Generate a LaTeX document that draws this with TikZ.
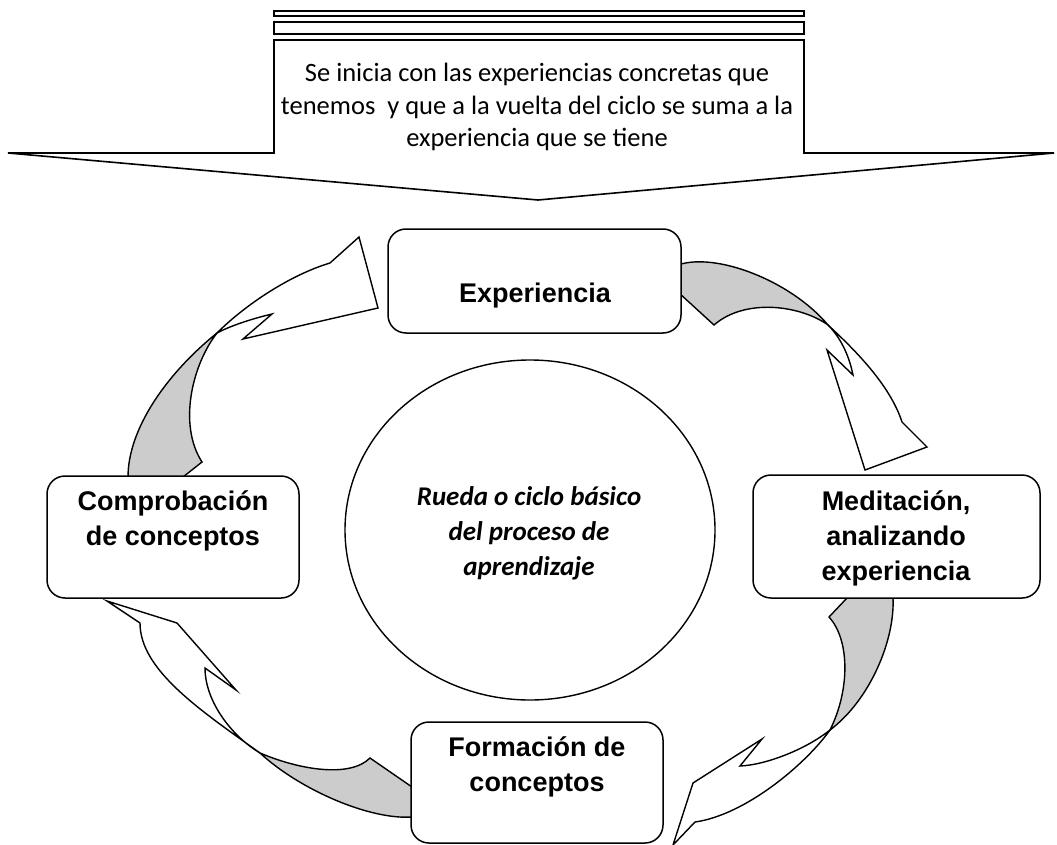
\documentclass[tikz,border=0pt]{standalone}
\usepackage{fontspec}
\setmainfont{Liberation Sans}
\newfontfamily\calibri{Carlito}
\usetikzlibrary{shapes.geometric}
\begin{document}
\begin{tikzpicture}[x=1pt,y=-1pt,
  box/.style={draw, line width=1.5pt, rounded corners=18pt, fill=white, inner sep=0pt},
  btxt/.style={font=\bfseries\fontsize{27}{35}\selectfont, align=center, inner sep=0pt},
  arr/.style={draw, line width=1.4pt, line join=miter},
  shade/.style={arr, fill=black!20},
  wshape/.style={arr, fill=white},
  cline/.style={draw, line width=1.6pt}]
\useasboundingbox (0,0) rectangle (1057,845);

% top callout
\path[cline] (274,11) rectangle (804,16);
\path[cline] (274,22) rectangle (804,34);
\path[cline, fill=white] (274,40) -- (804,40) -- (804,153) -- (1054,153) -- (538,200) -- (8,153) -- (274,153) -- cycle;
\node[font=\calibri\fontsize{26.5}{32.5}\selectfont, align=center, inner sep=0pt] (intro) at (537,107)
  {Se inicia con las experiencias concretas que\\tenemos\ \ y que a la vuelta del ciclo se suma a la\\experiencia que se tiene};

% central ellipse
\node[ellipse, draw, line width=1.4pt, minimum width=370pt, minimum height=340pt, inner sep=0pt,
  font=\calibri\bfseries\itshape\fontsize{27}{35}\selectfont, align=center] (wheel) at (530,530)
  {};
\node[font=\calibri\bfseries\itshape\fontsize{27}{35}\selectfont, align=center, inner sep=0pt] (wheelt) at (529,533)
  {Rueda o ciclo básico\\del proceso de\\aprendizaje};

% arrow 1 (Comprobación -> Experiencia)
\path[shade] (128,477) .. controls (128,430) and (165,375) .. (217,333) .. controls (192,365) and (178,425) .. (202,462) -- (183,477) -- cycle;
\path[wshape] (217,333) .. controls (245,305) and (290,275) .. (330,263) -- (359,237) -- (378,308) -- (243,339) -- (272,314) .. controls (255,318) and (232,325) .. (217,333) -- cycle;

% arrow 2 (Experiencia -> Meditación)
\path[shade] (678,265) .. controls (715,252) and (790,280) .. (828,325) .. controls (800,305) and (745,298) .. (714,325) -- (679,293) -- cycle;
\path[wshape] (828,325) .. controls (855,350) and (890,385) .. (902,422) -- (927,447) -- (865,470) -- (827,350) -- (853,375) .. controls (850,360) and (843,340) .. (828,325) -- cycle;

% arrow 3 (Meditación -> Formación)
\path[shade] (893,598) .. controls (895,640) and (870,700) .. (830,730) .. controls (850,690) and (850,640) .. (829,617) -- (847,598) -- cycle;
\path[wshape] (830,730) .. controls (805,765) and (745,815) .. (695,822) -- (673,845) -- (693,783) -- (762,739) -- (740,766) .. controls (765,765) and (805,750) .. (830,730) -- cycle;

% arrow 4 (Formación -> Comprobación)
\path[shade] (412,817) .. controls (370,820) and (300,790) .. (260,753) .. controls (300,770) and (350,778) .. (370,758) -- (412,787) -- cycle;
\path[wshape] (260,753) .. controls (200,710) and (140,670) .. (140,623) -- (107,601) -- (177,623) -- (236,690) -- (205,668) .. controls (205,700) and (230,735) .. (260,753) -- cycle;

% boxes
\node[box, minimum width=293pt, minimum height=104pt] (exp) at (534.5,281) {};
\node[box, minimum width=287pt, minimum height=123pt] (med) at (896.5,536.5) {};
\node[box, minimum width=252pt, minimum height=122pt] (comp) at (173,537) {};
\node[box, minimum width=252pt, minimum height=121pt] (form) at (537,782.5) {};

\node[btxt] (expt) at (535,296) {Experiencia};
\node[btxt] (medt) at (896,538) {Meditación,\\analizando\\experiencia};
\node[btxt] (compt) at (173,521) {Comprobación\\de conceptos};
\node[btxt] (formt) at (537,767) {Formación de\\conceptos};
\end{tikzpicture}
\end{document}
